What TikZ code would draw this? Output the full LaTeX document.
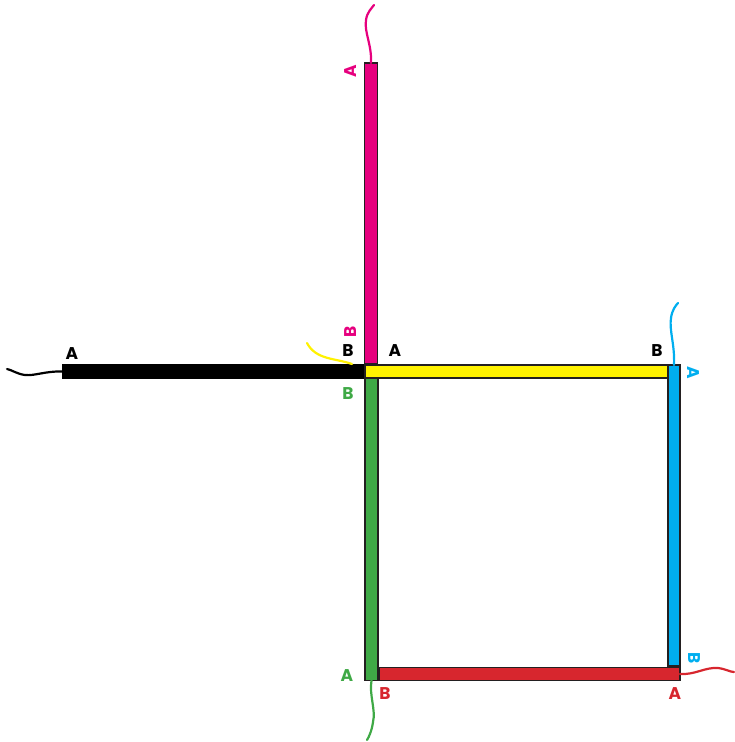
\documentclass[tikz,border=0pt]{standalone}
\usepackage{fontspec}
\setmainfont{Poppins}
\definecolor{magc}{HTML}{E6007E}
\definecolor{yelc}{HTML}{FFF200}
\definecolor{grnc}{HTML}{3FA946}
\definecolor{bluc}{HTML}{00AEEF}
\definecolor{redc}{HTML}{D7262E}
\definecolor{edgec}{HTML}{231F20}
\begin{document}
\begin{tikzpicture}[x=1pt,y=-1pt,
  bar/.style={draw=edgec,line width=1.6pt,inner sep=0pt,outer sep=0pt},
  wire/.style={line width=2.2pt,line cap=round},
  lab/.style={font=\fontsize{17}{17}\selectfont\bfseries,inner sep=0pt}]
\useasboundingbox (0,0) rectangle (734,742);
% bars
\node[bar,fill=black,draw=black,minimum width=302pt,minimum height=13pt] (blk) at (213.5,371.5) {};
\node[bar,fill=magc,minimum width=13pt,minimum height=301pt] (mag) at (371,213.5) {};
\node[bar,fill=yelc,minimum width=303pt,minimum height=13pt] (yel) at (516.5,371.5) {};
\node[bar,fill=grnc,minimum width=13pt,minimum height=302pt] (grn) at (371.5,529.5) {};
\node[bar,fill=bluc,minimum width=12pt,minimum height=301pt] (blu) at (674,515.5) {};
\node[bar,fill=redc,minimum width=301pt,minimum height=13pt] (red) at (529.5,674) {};
% wire ends
\coordinate (ywire) at (352,364);
% wires
\draw[wire,magc] (mag.north) .. controls (372,45) and (364,32) .. (366,20) .. controls (367,12) and (372,8) .. (374,5);
\draw[wire,yelc] (ywire) .. controls (335,358) and (316,360) .. (307,343);
\draw[wire,bluc] (blu.north) .. controls (675,345) and (669,330) .. (671,318) .. controls (672,310) and (676,305) .. (678,303);
\draw[wire,redc] (red.east) .. controls (695,675) and (705,667) .. (718,668) .. controls (726,669) and (730,672) .. (734,672);
\draw[wire,grnc] (grn.south) .. controls (369,695) and (376,710) .. (373,722) .. controls (372,730) and (369,737) .. (367,740);
\draw[wire,black] (blk.west) .. controls (45,371) and (35,376) .. (25,375) .. controls (17,374) and (12,370) .. (7,369);
% labels
\node[lab,magc,rotate=90] (ma) at (351,71) {A};
\node[lab,magc,rotate=90] (mb) at (351,332) {B};
\node[lab] (ka) at (72,354) {A};
\node[lab] (kb) at (348,351) {B};
\node[lab] (ya) at (395,351) {A};
\node[lab] (yb) at (657,351) {B};
\node[lab,grnc] (gb) at (348,394) {B};
\node[lab,grnc] (ga) at (347,676) {A};
\node[lab,bluc,rotate=-90] (ba) at (693,373) {A};
\node[lab,bluc,rotate=-90] (bb) at (694,658) {B};
\node[lab,redc] (rb) at (385,694) {B};
\node[lab,redc] (ra) at (675,694) {A};
\end{tikzpicture}
\end{document}
